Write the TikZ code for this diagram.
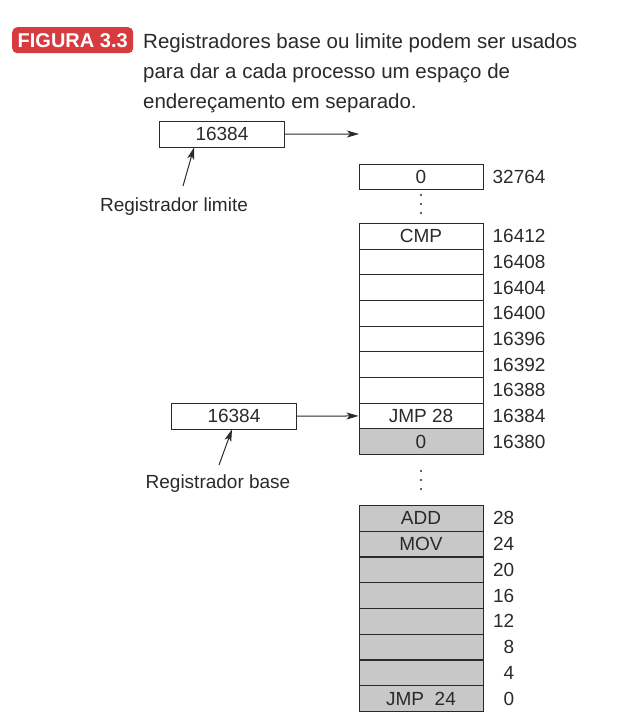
\documentclass[tikz,border=0pt]{standalone}
\usepackage{fontspec}
\setmainfont{Liberation Sans}
\usetikzlibrary{arrows.meta,calc}
\definecolor{figred}{HTML}{D63B40}
\definecolor{cellgray}{HTML}{C8C8C8}
\definecolor{lineclr}{HTML}{2A2A2A}
\begin{document}
\begin{tikzpicture}[x=1pt,y=-1pt,
  lbl/.style={font=\fontsize{19}{22}\selectfont, inner sep=0pt, text depth=0pt, text=lineclr},
  cell/.style={draw=lineclr, line width=0.9pt, minimum width=124pt, minimum height=25.6pt, inner sep=0pt, font=\fontsize{19}{22}\selectfont, text depth=0pt, text=lineclr, anchor=north},
  gcell/.style={cell, fill=cellgray},
  reg/.style={draw=lineclr, line width=0.9pt, minimum width=125pt, minimum height=25.5pt, inner sep=0pt, font=\fontsize{19}{22}\selectfont, text depth=0pt, text=lineclr, anchor=north west},
  arr/.style={draw=lineclr, line width=1pt, -{Stealth[length=12pt,width=7pt,inset=3pt]}},
  vdot/.style={circle, fill=lineclr, inner sep=0pt, minimum size=2.4pt}
]
\path[use as bounding box] (0,0) rectangle (624,721);

% title
\node[fill=figred, rounded corners=5pt, minimum width=121pt, minimum height=26pt, inner sep=0pt,
  text=white, font=\fontsize{20}{24}\selectfont\bfseries, anchor=north west] (fig) at (12,27) {FIGURA 3.3};
\node[anchor=north west, inner sep=0pt, align=left, text=lineclr,
  font=\fontsize{20.5}{30}\selectfont] (cap) at (143,33)
  {Registradores base ou limite podem ser usados\\para dar a cada processo um espaço de\\endereçamento em separado.};

% top cell
\node[cell, minimum height=25pt] (top) at (421,164) {0};
\node[lbl, anchor=west, xshift=9pt] at (top.east) {32764};
\node[vdot] (d1) at (421,195) {};
\node[vdot] (d2) at (421,204) {};
\node[vdot] (d3) at (421,213) {};

% upper block
\foreach \t [count=\i from 0] in {CMP,{},{},{},{},{},{},JMP 28}
  \node[cell] (c\i) at (421,{223+25.67*\i}) {\t};
\node[gcell] (c8) at (421,{223+25.67*8}) {0};
\foreach \a [count=\i from 0] in {16412,16408,16404,16400,16396,16392,16388,16384,16380}
  \node[lbl, anchor=west, xshift=9pt] at (c\i.east) {\a};

\node[vdot] (d4) at (421,471) {};
\node[vdot] (d5) at (421,480) {};
\node[vdot] (d6) at (421,489) {};

% lower block
\foreach \t [count=\i from 0] in {ADD,MOV,{},{},{},{},{},JMP\ \ 24}
  \node[gcell] (b\i) at (421,{505+25.75*\i}) {\t};
\foreach \a [count=\i from 0] in {28,24,20,16,12,8,4,0}
  \node[lbl, anchor=east, xshift=31pt] at (b\i.east) {\a};

% limit register
\node[reg] (lim) at (159,121) {16384};
\coordinate (limend) at (359,134);
\draw[arr] (lim.east) -- (limend);
\node[lbl] (limlbl) at (174,205) {Registrador limite};
\coordinate (limtail) at (183,186);
\draw[arr] (limtail) -- ($(lim.south west)+(35,0)$);

% base register
\node[reg] (base) at (171,403) {16384};
\draw[arr] (base.east) -- (c7.west);
\node[lbl] (baselbl) at (218,482) {Registrador base};
\coordinate (basetail) at (219,465);
\draw[arr] (basetail) -- ($(base.south west)+(61,0)$);
\end{tikzpicture}
\end{document}
